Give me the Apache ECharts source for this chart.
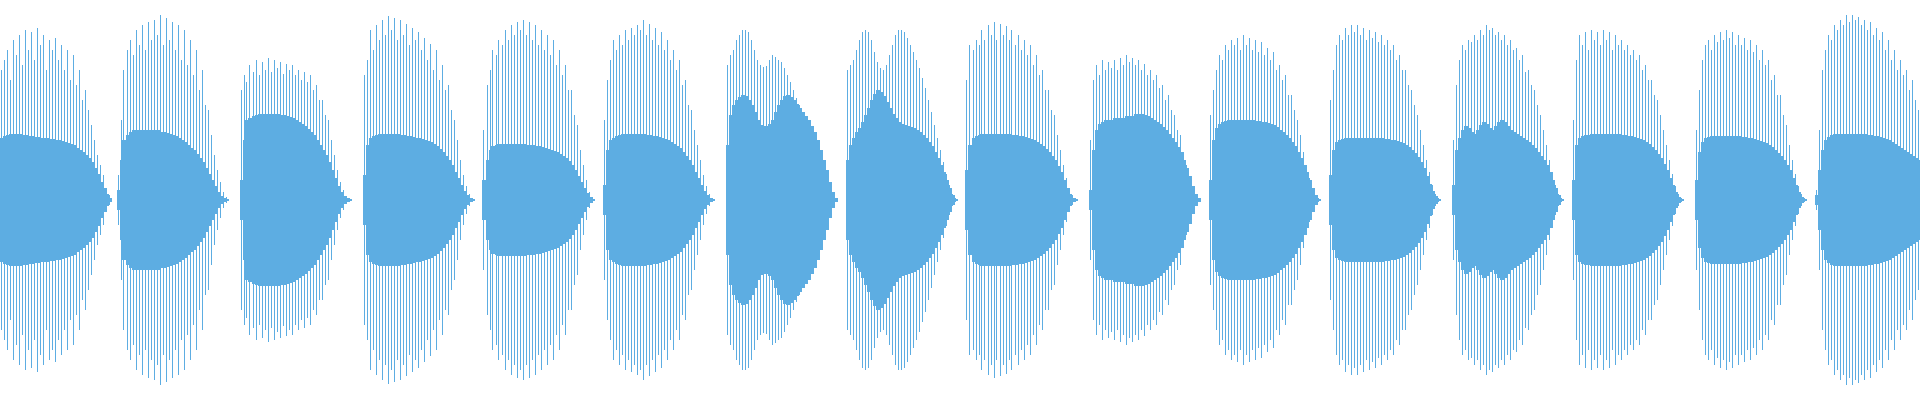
<!DOCTYPE html>
<html>
<head>
<meta charset="utf-8">
<script src="https://cdn.jsdelivr.net/npm/echarts@6/dist/echarts.min.js"></script>
<style>html,body{margin:0;padding:0;background:#fff}#main{width:1920px;height:400px}</style>
</head>
<body>
<div id="main"></div>
<script>
// slot index (3px each) where each burst starts
const burstStarts = [0, 39, 80, 121, 161, 201, 242, 282, 322, 363, 403, 443, 484, 524, 565, 605];

// filled core amplitude per slot
const core1 = [62,64,65,66,66,66,66,65,65,64,64,63,63,62,62,62,61,61,60,60,59,58,57,56,55,52,50,48,45,42,38,32,26,18,12,6,2];
const core2 = [10,40,60,65,68,70,70,70,70,70,70,70,70,70,68,68,67,66,65,64,62,60,58,55,52,50,46,42,38,32,26,20,14,8,4,2,1];
const core3 = [20,60,80,82,84,85,86,86,86,86,86,86,86,85,85,84,83,82,80,78,76,74,71,68,65,60,55,50,45,38,30,22,14,8,4,2,1];
const core4 = [25,55,62,64,65,66,66,66,66,66,66,66,65,65,64,64,63,62,62,61,60,59,58,56,54,51,48,44,40,35,28,22,15,9,5,2,1];
const core5 = [20,40,50,54,55,56,56,56,56,56,56,56,56,56,55,55,55,54,54,53,52,51,50,49,48,46,44,42,39,35,30,24,18,12,7,3,1];
const core6 = [15,50,60,62,64,65,66,66,66,66,66,66,66,66,65,65,64,64,63,62,61,60,58,56,54,52,48,44,40,35,28,22,15,9,5,2,1];
const core7 = [55,85,95,100,103,105,104,100,95,88,80,75,74,74,76,80,88,95,100,104,105,103,100,96,92,88,84,80,74,68,60,50,40,30,18,8,2];
const core8 = [40,55,62,68,72,78,85,92,100,106,110,108,104,98,92,86,82,78,76,75,74,73,72,70,68,65,62,58,54,48,42,35,28,20,12,5,1];
const core9 = [30,55,62,64,65,66,66,66,66,66,66,66,66,66,66,65,65,64,64,63,62,61,60,58,56,54,51,48,44,40,34,28,20,12,6,2,1];
const core10 = [10,50,70,76,78,80,80,80,82,82,82,82,84,84,84,86,86,86,85,84,82,80,78,76,73,70,66,62,58,53,48,40,32,24,14,6,2];
const core11 = [20,60,72,76,78,79,80,80,80,80,80,80,80,80,80,79,79,78,78,77,76,75,73,70,68,65,62,58,54,48,42,35,28,20,12,5,1];
const core12 = [25,50,58,60,61,62,62,62,62,62,62,62,62,62,62,62,62,62,61,61,60,60,59,58,57,55,53,50,47,43,38,32,24,16,9,4,1];
const core13 = [15,50,62,70,74,72,68,66,70,75,78,76,72,70,74,78,80,78,74,70,68,66,64,62,60,58,55,52,48,44,40,35,28,20,12,5,1];
const core14 = [20,55,62,64,65,65,66,66,66,66,66,66,66,66,66,66,65,65,64,64,63,62,61,60,58,56,53,50,46,42,36,30,22,15,8,3,1];
const core15 = [20,48,58,62,63,64,64,64,64,64,64,64,64,64,64,63,63,62,62,61,60,59,58,57,55,53,50,47,44,40,35,30,22,15,8,3,1];
const core16 = [5,30,50,60,63,65,66,66,66,66,66,66,66,66,66,66,66,65,65,64,64,63,62,61,60,58,56,54,52,50,48,46,44,42,40];

// thin peak line amplitude per slot
const peaks1 = [130,140,150,120,160,145,165,135,170,150,168,140,172,155,165,130,160,150,162,140,155,130,150,120,145,115,130,100,110,90,75,60,45,35,25,12,5];
const peaks2 = [25,80,130,150,160,145,170,155,175,150,178,160,180,165,185,155,182,160,178,150,175,140,170,135,160,125,150,110,130,95,90,65,45,30,18,8,3];
const peaks3 = [110,125,118,135,128,140,125,138,130,142,128,140,132,138,126,136,130,135,125,130,120,128,118,125,110,115,100,100,85,80,60,45,30,18,10,4,2];
const peaks4 = [125,140,170,150,175,160,180,165,184,170,182,160,180,165,176,155,172,160,168,150,162,140,156,130,150,120,135,110,115,90,80,60,40,25,14,6,2];
const peaks5 = [70,115,130,150,145,160,155,170,160,175,165,178,170,180,165,178,160,175,155,170,150,165,145,160,135,150,125,135,110,110,85,75,50,35,20,8,3];
const peaks6 = [80,120,140,160,150,165,155,170,160,172,165,175,170,180,165,176,160,172,155,168,150,160,140,150,130,140,115,120,95,90,70,55,40,25,14,6,2];
const peaks7 = [135,145,150,160,165,170,170,168,160,150,140,135,133,134,140,145,143,140,138,132,125,118,110,102,95,88,80,72,64,55,45,35,25,15,8,3,1];
const peaks8 = [130,135,140,150,160,168,170,168,160,148,138,132,130,135,145,155,165,170,170,168,162,155,148,140,132,122,112,100,88,75,62,50,38,26,15,6,2];
const peaks9 = [120,155,150,160,155,170,160,175,165,178,160,176,165,174,160,170,155,165,150,160,145,155,135,145,125,130,110,110,90,85,65,50,35,22,12,5,2];
const peaks10 = [60,120,135,125,140,130,138,132,140,130,142,135,145,138,142,135,140,130,136,125,130,120,125,112,115,100,105,90,85,70,65,48,35,22,12,5,2];
const peaks11 = [85,110,130,145,140,155,150,160,155,162,150,165,155,162,150,160,148,158,145,152,140,148,130,135,120,125,105,105,90,80,65,48,35,22,12,5,2];
const peaks12 = [100,130,155,165,160,172,165,175,168,175,165,172,160,170,162,168,158,165,155,160,150,155,140,145,130,130,115,110,95,85,70,55,40,28,15,6,2];
const peaks13 = [60,115,140,155,150,160,158,165,160,170,165,175,170,172,165,168,160,165,155,160,150,152,140,145,128,130,115,110,95,85,70,55,40,28,15,6,2];
const peaks14 = [80,140,165,155,168,150,170,160,168,155,170,160,168,150,165,155,160,150,155,145,150,140,145,130,135,120,120,105,100,85,70,55,40,26,14,6,2];
const peaks15 = [70,110,140,155,160,150,165,158,168,160,170,162,168,155,165,155,162,150,160,148,155,140,150,135,140,120,125,105,105,85,75,55,40,26,14,6,2];
const peaks16 = [10,70,130,150,165,160,175,170,180,175,185,178,185,180,183,175,180,170,178,165,172,160,168,150,160,140,150,130,140,125,130,110,120,100,90];

const cores = [core1,core2,core3,core4,core5,core6,core7,core8,core9,core10,core11,core12,core13,core14,core15,core16];
const peaks = [peaks1,peaks2,peaks3,peaks4,peaks5,peaks6,peaks7,peaks8,peaks9,peaks10,peaks11,peaks12,peaks13,peaks14,peaks15,peaks16];

const slots = Array.from({ length: 640 }, (_, i) => i);
const data = [];
burstStarts.forEach((start, b) => {
  cores[b].forEach((c, j) => data.push([start + j, c, peaks[b][j]]));
});

const color = '#5dade2';

var myChart = echarts.init(document.getElementById('main'));
myChart.setOption({
  animation: false,
  grid: { left: 0, right: 0, top: 0, bottom: 0 },
  xAxis: { type: 'category', data: slots, show: false, boundaryGap: true },
  yAxis: { type: 'value', min: -200, max: 200, show: false },
  series: [{
    type: 'custom',
    data: data,
    renderItem: (params, api) => {
      const top = api.coord([api.value(0), api.value(1)]);
      const bot = api.coord([api.value(0), -api.value(1)]);
      const ptop = api.coord([api.value(0), api.value(2)]);
      const pbot = api.coord([api.value(0), -api.value(2)]);
      const w = api.size([1, 0])[0];
      const x = Math.floor(top[0] - w / 2);
      return {
        type: 'group',
        children: [
          { type: 'rect', shape: { x: x, y: Math.round(top[1]), width: Math.ceil(w) + 1, height: Math.round(bot[1] - top[1]) }, style: { fill: color } },
          { type: 'rect', shape: { x: x + 1, y: Math.round(ptop[1]), width: 1, height: Math.round(pbot[1] - ptop[1]) }, style: { fill: color } }
        ]
      };
    }
  }]
});
</script>
</body>
</html>
